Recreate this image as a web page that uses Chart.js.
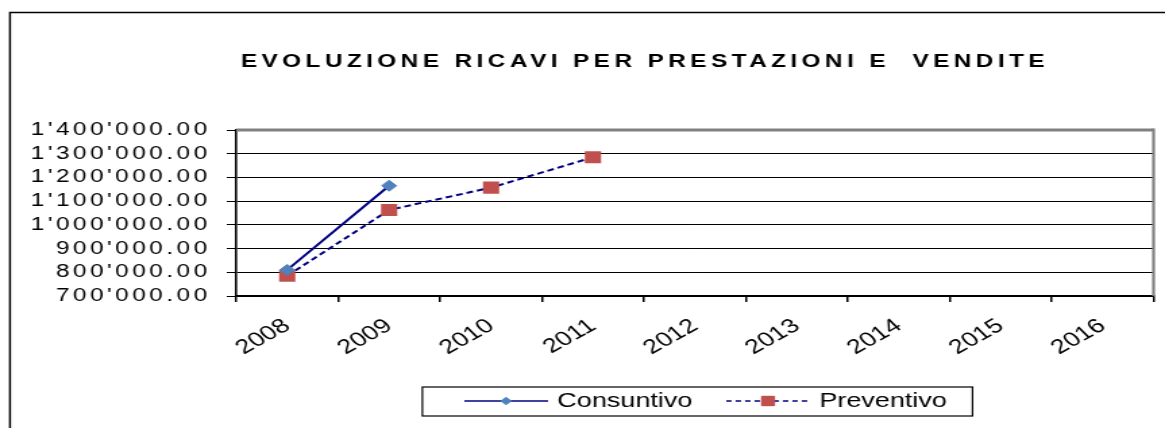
<!DOCTYPE html>
<html>
<head>
<meta charset="utf-8">
<script src="https://cdn.jsdelivr.net/npm/chart.js@4/dist/chart.umd.min.js"></script>
<style>
  html, body { margin: 0; padding: 0; background: #fff; overflow: hidden; }
</style>
</head>
<body>
<!-- drawn narrow and stretched wide, like the original picture -->
<canvas id="grafico" width="863" height="428" style="width:1165px;height:428px;display:block"></canvas>
<script>
(() => {
  'use strict'

  const anni = ['2008', '2009', '2010', '2011', '2012', '2013', '2014', '2015', '2016']
  const consuntivo = [810000, 1165000, null, null, null, null, null, null, null]
  const preventivo = [785000, 1063000, 1157000, 1285000, null, null, null, null, null]
  const yMin = 700000
  const yMax = 1400000
  const yStep = 100000

  const FONT = "'Liberation Sans', Arial, sans-serif"
  const NAVY = '#000080'
  const BLU = '#4F81BD'
  const ROSSO = '#C0504D'
  const LEG_DX = 9.4

  // 1'400'000.00
  const formatta = (v) => {
    const [int, dec] = Number(v).toFixed(2).split('.')
    return int.replace(/\B(?=(\d{3})+(?!\d))/g, "'") + '.' + dec
  }

  // legend samples: line with the marker in the middle
  const campione = (dash, stile, colore, raggio) => {
    const c = document.createElement('canvas')
    c.width = 62
    c.height = 18
    const g = c.getContext('2d')
    g.strokeStyle = NAVY
    g.lineWidth = 1.5
    g.setLineDash(dash)
    g.beginPath()
    g.moveTo(0, 9)
    g.lineTo(62, 9)
    g.stroke()
    g.setLineDash([])
    g.fillStyle = colore
    g.strokeStyle = colore
    g.lineWidth = 1
    g.beginPath()
    Chart.helpers.drawPoint(g, { pointStyle: stile, radius: raggio, borderWidth: 1 }, 31, 9)
    g.fill()
    g.stroke()
    return c
  }
  const iconaCons = campione([], 'rectRot', BLU, 3.5)
  const iconaPrev = campione([4, 3], 'rect', ROSSO, 6.5)

  const allarga = (obj, metodo, fn) => {
    if (!obj || obj['_w_' + metodo]) return
    const orig = obj[metodo]
    obj[metodo] = function (...a) {
      this.ctx.save()
      fn(this.ctx)
      orig.apply(this, a)
      this.ctx.restore()
    }
    obj['_w_' + metodo] = true
  }

  const cornice = {
    id: 'cornice',
    beforeDraw(chart) {
      const { ctx, width, height } = chart
      ctx.save()
      ctx.fillStyle = '#fff'
      ctx.fillRect(0, 0, width, height)
      ctx.strokeStyle = '#000'
      ctx.lineWidth = 1.5
      ctx.beginPath()
      ctx.moveTo(7.4, height + 2)
      ctx.lineTo(7.4, 12.5)
      ctx.lineTo(width + 2, 12.5)
      ctx.stroke()
      ctx.restore()

      // wide lettering for title and value labels, legend nudged right
      allarga(chart.titleBlock, 'draw', (c) => { c.letterSpacing = '3.3px'; c.translate(48.5, 0) })
      allarga(chart.scales.y, 'drawLabels', (c) => { c.letterSpacing = '2.6px' })
      allarga(chart.legend, 'draw', (c) => { c.translate(LEG_DX, 0) })
    },
    beforeDatasetsDraw(chart) {
      const { ctx, chartArea: a } = chart
      ctx.save()
      ctx.strokeStyle = '#808080'
      ctx.lineWidth = 3
      ctx.beginPath()
      ctx.moveTo(a.left, a.top)
      ctx.lineTo(a.right, a.top)
      ctx.stroke()
      ctx.lineWidth = 2.2
      ctx.beginPath()
      ctx.moveTo(a.right, a.top - 1.5)
      ctx.lineTo(a.right, a.bottom)
      ctx.stroke()
      ctx.restore()
    },
    afterDraw(chart) {
      const hb = chart.legend && chart.legend.legendHitBoxes
      if (!hb || !hb.length) return
      const l = hb[0].left - 34 + LEG_DX
      const r = hb[hb.length - 1].left + hb[hb.length - 1].width + 19 + LEG_DX
      const t = hb[0].top - 4
      const b = hb[0].top + hb[0].height + 5
      const { ctx } = chart
      ctx.save()
      ctx.strokeStyle = '#000'
      ctx.lineWidth = 1.2
      ctx.strokeRect(l, t, r - l, b - t)
      ctx.restore()
    }
  }

  const ctx = document.getElementById('grafico')
  // eslint-disable-next-line no-unused-vars
  const myChart = new Chart(ctx, {
    type: 'line',
    data: {
      labels: anni,
      datasets: [{
        label: 'Consuntivo',
        data: consuntivo,
        borderColor: NAVY,
        borderWidth: 2,
        lineTension: 0,
        backgroundColor: 'transparent',
        pointStyle: 'rectRot',
        pointRadius: 5.5,
        pointBackgroundColor: BLU,
        pointBorderColor: BLU,
        pointBorderWidth: 1
      }, {
        label: 'Preventivo',
        data: preventivo,
        borderColor: NAVY,
        borderWidth: 2,
        borderDash: [5, 3],
        lineTension: 0,
        backgroundColor: 'transparent',
        pointStyle: 'rect',
        pointRadius: 8.5,
        pointBackgroundColor: ROSSO,
        pointBorderColor: ROSSO,
        pointBorderWidth: 0
      }]
    },
    plugins: [cornice],
    options: {
      responsive: false,
      devicePixelRatio: 1,
      animation: false,
      layout: { padding: { left: 0, right: 4.5, top: 0, bottom: 7 } },
      scales: {
        x: {
          offset: true,
          grid: {
            offset: true,
            drawOnChartArea: false,
            drawTicks: true,
            tickLength: 6,
            color: '#000',
            lineWidth: 1.5
          },
          border: { color: '#000', width: 1.5 },
          ticks: {
            autoSkip: false,
            maxRotation: 37,
            minRotation: 37,
            padding: 12,
            color: '#000',
            font: { family: FONT, size: 20 }
          },
          afterFit(s) {
            s.height = 67
            s.paddingLeft = 0
            s.paddingRight = 0
          }
        },
        y: {
          min: yMin,
          max: yMax,
          grid: {
            color: '#000',
            lineWidth: 1,
            drawTicks: true,
            tickLength: 7
          },
          border: { color: '#000', width: 1.6 },
          ticks: {
            autoSkip: false,
            stepSize: yStep,
            padding: 12,
            color: '#000',
            font: { family: FONT, size: 18 },
            callback: (v) => formatta(v)
          },
          afterFit(s) {
            s.width = 175
            s.paddingTop = 0
            s.paddingBottom = 0
          }
        }
      },
      plugins: {
        title: {
          display: true,
          text: 'EVOLUZIONE RICAVI PER PRESTAZIONI E  VENDITE',
          color: '#000',
          font: { family: FONT, size: 18, weight: 'bold' },
          padding: { top: 51.7, bottom: 56.7 }
        },
        legend: {
          display: true,
          position: 'bottom',
          fullSize: false,
          labels: {
            color: '#000',
            font: { family: FONT, size: 20 },
            usePointStyle: true,
            pointStyleWidth: 56,
            padding: 28,
            generateLabels: () => [
              { text: 'Consuntivo', pointStyle: iconaCons, datasetIndex: 0, hidden: false, lineWidth: 0 },
              { text: 'Preventivo', pointStyle: iconaPrev, datasetIndex: 1, hidden: false, lineWidth: 0 }
            ]
          }
        },
        tooltip: { enabled: false }
      }
    }
  })
})()
</script>
</body>
</html>
